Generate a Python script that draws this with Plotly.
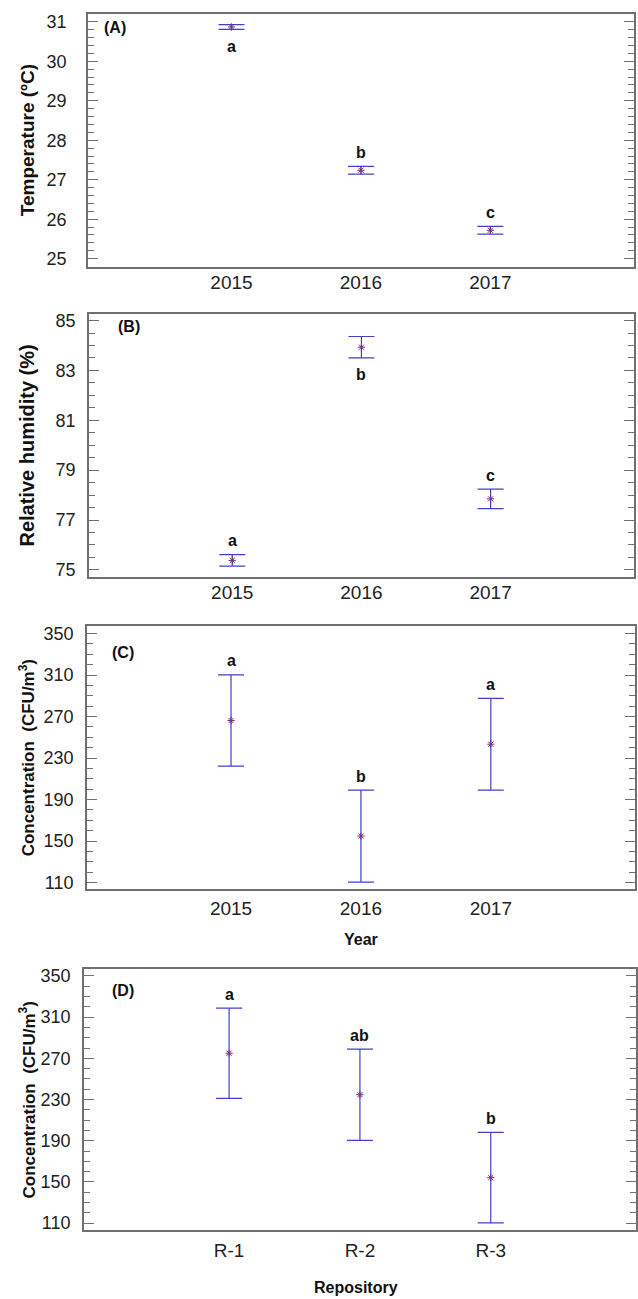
import plotly.graph_objects as go

# ---------------- data ----------------
years = ["2015", "2016", "2017"]
repos = ["R-1", "R-2", "R-3"]

temp_mean = [30.87, 27.24, 25.72]
temp_err = [0.06, 0.10, 0.10]
temp_letters = ["a", "b", "c"]
temp_letter_pos = ["below", "above", "above"]

hum_mean = [75.38, 83.93, 77.85]
hum_err = [0.23, 0.43, 0.39]
hum_letters = ["a", "b", "c"]
hum_letter_pos = ["above", "below", "above"]

conc_year_mean = [266.2, 154.8, 243.4]
conc_year_err = [44.0, 44.3, 44.2]
conc_year_letters = ["a", "b", "a"]
conc_year_letter_pos = ["above", "above", "above"]

conc_repo_mean = [275.0, 234.7, 154.2]
conc_repo_err = [43.8, 44.3, 44.0]
conc_repo_letters = ["a", "ab", "b"]
conc_repo_letter_pos = ["above", "above", "above"]

# ---------------- layout helpers ----------------
W, H = 638, 1299
FONT = "Liberation Sans, Arial, sans-serif"
ERR_COLOR = "#4040c8"
MARK_COLOR = "#7a2a80"
LINE_COLOR = "#707070"

panels = [
    dict(cats=years, mean=temp_mean, err=temp_err, letters=temp_letters, lpos=temp_letter_pos,
         box=(88, 635, 11, 265), yrange=[24.8, 31.2], dtick=1, tick0=25, minor=0.2,
         ytitle="Temperature (ºC)", ytsize=19, tag="(A)", tagxy=(115, 25), ystand=16,
         xstand=-2, xtitle=None),
    dict(cats=years, mean=hum_mean, err=hum_err, letters=hum_letters, lpos=hum_letter_pos,
         box=(89, 635, 313, 577), yrange=[74.72, 85.25], dtick=2, tick0=75, minor=0.5,
         ytitle="Relative humidity (%)", ytsize=20, tag="(B)", tagxy=(129, 325), ystand=8,
         xstand=-2, xtitle=None),
    dict(cats=years, mean=conc_year_mean, err=conc_year_err, letters=conc_year_letters,
         lpos=conc_year_letter_pos,
         box=(87, 636, 626, 891), yrange=[103.6, 357.7], dtick=40, tick0=110, minor=10,
         ytitle="Concentration  (CFU/m<sup>3</sup>)", ytsize=17, tag="(C)", tagxy=(123, 653),
         ystand=8, xstand=1, xtitle=("Year", 362, 942)),
    dict(cats=repos, mean=conc_repo_mean, err=conc_repo_err, letters=conc_repo_letters,
         lpos=conc_repo_letter_pos,
         box=(84, 637, 971, 1234), yrange=[103.0, 357.0], dtick=40, tick0=110, minor=10,
         ytitle="Concentration  (CFU/m<sup>3</sup>)", ytsize=17, tag="(D)", tagxy=(123, 993),
         ystand=8, xstand=2, xtitle=("Repository", 357, 1291)),
]

fig = go.Figure()
annotations = []
layout = {}

for i, p in enumerate(panels):
    n = "" if i == 0 else str(i + 1)
    xa, ya = "x" + n, "y" + n
    x0, x1, yt, yb = p["box"]
    fig.add_trace(go.Scatter(
        x=p["cats"], y=p["mean"], xaxis=xa, yaxis=ya, mode="markers",
        marker=dict(symbol="asterisk-open", size=6, color=MARK_COLOR,
                    line=dict(color=MARK_COLOR, width=1)),
        error_y=dict(type="data", array=p["err"], visible=True, color=ERR_COLOR,
                     thickness=1.2, width=13),
        showlegend=False, hoverinfo="skip"))

    layout["xaxis" + n] = dict(
        domain=[x0 / W, x1 / W], anchor=ya, type="category", range=[-1.11, 3.11],
        showline=True, linecolor=LINE_COLOR, linewidth=1.5, mirror=True, ticks="",
        showgrid=False, zeroline=False, ticklabelstandoff=p["xstand"],
        tickfont=dict(family=FONT, size=19, color="#222222"))
    layout["yaxis" + n] = dict(
        domain=[1 - yb / H, 1 - yt / H], anchor=xa, range=p["yrange"],
        tickmode="linear", dtick=p["dtick"], tick0=p["tick0"],
        showline=True, linecolor=LINE_COLOR, linewidth=1.5, mirror="ticks",
        ticks="inside", ticklen=10, tickwidth=1, tickcolor=LINE_COLOR,
        minor=dict(dtick=p["minor"], ticks="inside", ticklen=6, tickwidth=1,
                   tickcolor=LINE_COLOR, showgrid=False),
        showgrid=False, zeroline=False, ticklabelstandoff=p["ystand"],
        tickfont=dict(family=FONT, size=18, color="#222222"))

    # y title
    annotations.append(dict(
        text="<b>%s</b>" % p["ytitle"], xref="paper", yref="paper",
        x=27 / W, y=1 - ((yt + yb) / 2) / H, textangle=-90, showarrow=False,
        xanchor="center", yanchor="middle",
        font=dict(family=FONT, size=p["ytsize"], color="#111111")))
    # panel tag
    annotations.append(dict(
        text="<b>%s</b>" % p["tag"], xref="paper", yref="paper",
        x=p["tagxy"][0] / W, y=1 - p["tagxy"][1] / H, showarrow=False,
        xanchor="center", yanchor="middle",
        font=dict(family=FONT, size=16, color="#111111")))
    # significance letters (category index used as x position)
    for k, (m, e, L, pos) in enumerate(zip(p["mean"], p["err"], p["letters"], p["lpos"])):
        if pos == "above":
            yy, sh = m + e, 14
        else:
            yy, sh = m - e, -17
        annotations.append(dict(
            text="<b>%s</b>" % L, xref=xa, yref=ya, x=k, y=yy, yshift=sh,
            showarrow=False, xanchor="center", yanchor="middle",
            font=dict(family=FONT, size=16, color="#111111")))
    if p["xtitle"]:
        t, tx, ty = p["xtitle"]
        annotations.append(dict(
            text="<b>%s</b>" % t, xref="paper", yref="paper",
            x=tx / W, y=1 - ty / H, showarrow=False, xanchor="center", yanchor="middle",
            font=dict(family=FONT, size=16, color="#111111")))

fig.update_layout(
    width=W, height=H, margin=dict(l=0, r=0, t=0, b=0),
    paper_bgcolor="white", plot_bgcolor="white",
    annotations=annotations, **layout)

fig.write_html("out.html")
